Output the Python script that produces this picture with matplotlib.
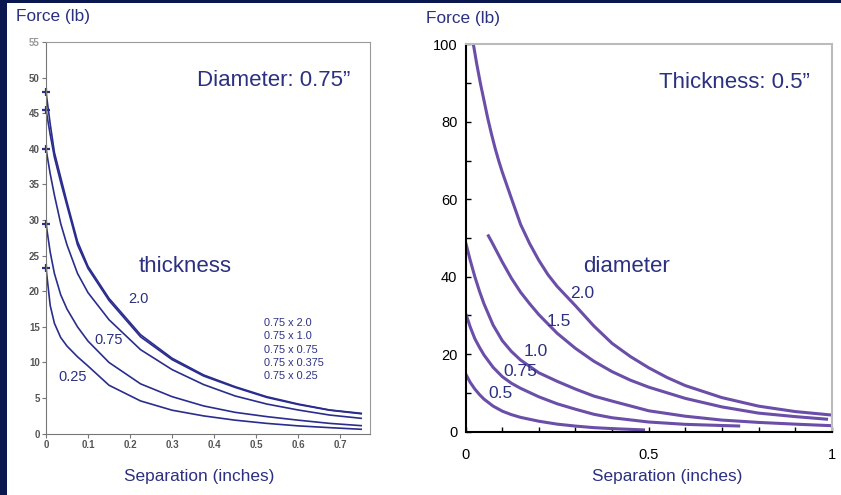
import matplotlib
matplotlib.use("Agg")
import matplotlib.pyplot as plt
from matplotlib.patches import Rectangle

plt.rcParams['font.family'] = ['Liberation Sans', 'DejaVu Sans']

# ---- left chart: diameter 0.75", different thickness ----
sep_left = [0, 0.01, 0.02, 0.035, 0.05, 0.075, 0.1, 0.15, 0.225, 0.3, 0.375, 0.45, 0.525, 0.6, 0.675, 0.75]
thick_20 = [48.0, 43.5, 39.5, 36.0, 32.5, 27.0, 23.5, 19.0, 13.9, 10.6, 8.25, 6.6, 5.2, 4.17, 3.33, 2.86]
thick_10 = [45.5, 42.0, 38.8, 35.3, 32.0, 26.5, 23.2, 18.7, 13.6, 10.4, 8.1, 6.5, 5.1, 4.1, 3.3, 2.8]
thick_075 = [40.0, 36.5, 33.5, 29.5, 26.5, 22.5, 19.8, 16.0, 11.8, 9.0, 6.9, 5.3, 4.17, 3.33, 2.62, 2.16]
thick_0375 = [29.5, 25.5, 22.5, 19.5, 17.5, 15.0, 13.0, 10.0, 7.0, 5.2, 3.9, 3.0, 2.4, 1.9, 1.45, 1.13]
thick_025 = [23.3, 18.0, 15.5, 13.5, 12.3, 10.8, 9.5, 6.8, 4.6, 3.3, 2.5, 1.9, 1.45, 1.1, 0.85, 0.62]
legend_left = ["0.75 x 2.0", "0.75 x 1.0", "0.75 x 0.75", "0.75 x 0.375", "0.75 x 0.25"]

# ---- right chart: thickness 0.5", different diameter ----
sep_d05 = [0, 0.0125, 0.025, 0.0375, 0.05, 0.075, 0.1, 0.125, 0.15, 0.2, 0.25, 0.3, 0.35, 0.4, 0.49]
dia_05 = [14.9, 12.7, 11.0, 9.6, 8.4, 6.6, 5.3, 4.4, 3.7, 2.7, 1.95, 1.45, 1.05, 0.8, 0.45]
sep_d075 = [0, 0.0125, 0.025, 0.0375, 0.05, 0.075, 0.1, 0.125, 0.15, 0.2, 0.25, 0.3, 0.35, 0.4, 0.5, 0.6, 0.7, 0.75]
dia_075 = [30.5, 27.0, 24.0, 21.8, 19.8, 16.6, 14.2, 12.5, 11.2, 9.0, 7.2, 5.8, 4.5, 3.6, 2.5, 1.9, 1.6, 1.46]
sep_d10 = [0, 0.0125, 0.025, 0.0375, 0.05, 0.075, 0.1, 0.125, 0.15, 0.2, 0.25, 0.3, 0.35, 0.4, 0.5, 0.6, 0.7, 0.8, 0.9, 1.0]
dia_10 = [48.8, 44.2, 40.0, 36.3, 33.0, 27.5, 23.5, 20.7, 18.5, 15.2, 13.0, 11.0, 9.2, 7.9, 5.4, 4.0, 3.0, 2.4, 1.95, 1.55]
sep_d15 = [0.06, 0.07, 0.08, 0.09, 0.1, 0.125, 0.15, 0.175, 0.2, 0.25, 0.3, 0.35, 0.4, 0.45, 0.5, 0.6, 0.7, 0.8, 0.9, 0.99]
dia_15 = [50.9, 49.2, 47.4, 45.6, 43.8, 39.6, 36.0, 33.0, 30.2, 25.4, 21.5, 18.2, 15.5, 13.3, 11.5, 8.6, 6.4, 4.8, 3.9, 3.2]
sep_d20 = [0.021, 0.03, 0.04, 0.05, 0.06, 0.07, 0.08, 0.09, 0.1, 0.125, 0.15, 0.175, 0.2, 0.225,
           0.25, 0.275, 0.3, 0.35, 0.4, 0.45, 0.5, 0.55, 0.6, 0.7, 0.8, 0.9, 1.0]
dia_20 = [100, 95, 90, 85.5, 81, 77, 73.3, 70, 67, 60.2, 53.5, 48.5, 44.2, 40.5,
          37.5, 35, 32.5, 27.3, 22.8, 19.4, 16.5, 14.0, 11.9, 8.8, 6.6, 5.2, 4.3]

W, H = 841, 495
navy = '#2b3080'
c_left = '#2a2d8c'
c_right = '#6a4ea8'

fig = plt.figure(figsize=(W / 100, H / 100), dpi=100, facecolor='#0b1850')
fig.patches.append(Rectangle((7 / W, 0), 1, 492 / H, transform=fig.transFigure,
                             facecolor='white', edgecolor='none', zorder=-10))


def ftext(x, y, s, **kw):
    # position in pixels of the picture (y from top)
    fig.text(x / W, 1 - y / H, s, **kw)


# ---------------- left chart ----------------
ax1 = fig.add_axes([46 / W, 1 - 433.7 / H, 324 / W, 391.7 / H])
for ys in [thick_20, thick_10, thick_075, thick_0375, thick_025]:
    ax1.plot(sep_left, ys, color=c_left, lw=1.2)
    ax1.plot(sep_left[0], ys[0], marker='+', color=c_left, ms=6, mew=1.6, clip_on=False)
ax1.set_xlim(0, 0.771)
ax1.set_ylim(0, 55)
ax1.set_xticks([0, 0.1, 0.2, 0.3, 0.4, 0.5, 0.6, 0.7])
ax1.set_xticklabels(['0', '0.1', '0.2', '0.3', '0.4', '0.5', '0.6', '0.7'])
ax1.set_yticks(range(0, 56, 5))
ax1.tick_params(labelsize=7, labelcolor='#555555', color='#777777', length=3, width=0.8, pad=1.5)
for lab in ax1.get_xticklabels() + ax1.get_yticklabels():
    lab.set_fontweight('bold')
ax1.get_yticklabels()[-1].set_color('#999999')
for s in ['top', 'right']:
    ax1.spines[s].set_color('#9a9a9a')
for s in ['left', 'bottom']:
    ax1.spines[s].set_color('#777777')

ftext(16, 17, "Force (lb)", color=navy, fontsize=12.4, va='center')
ftext(197, 81, "Diameter: 0.75\u201d", color=navy, fontsize=16, va='center')
ftext(139, 267, "thickness", color=navy, fontsize=16, va='center')
ftext(128, 299, "2.0", color=navy, fontsize=10.5, va='center')
ftext(94, 340, "0.75", color=navy, fontsize=10.5, va='center')
ftext(58, 377, "0.25", color=navy, fontsize=10.5, va='center')
for i, s in enumerate(legend_left):
    ftext(264, 323 + i * 13.3, s, color=navy, fontsize=7.8, va='center')
ftext(199, 477, "Separation (inches)", color=navy, fontsize=12.4, va='center', ha='center')

# ---------------- right chart ----------------
ax2 = fig.add_axes([465.7 / W, 1 - 431.7 / H, 366 / W, 387.4 / H])
for xs, ys in [(sep_d05, dia_05), (sep_d075, dia_075), (sep_d10, dia_10),
               (sep_d15, dia_15), (sep_d20, dia_20)]:
    ax2.plot(xs, ys, color=c_right, lw=2.2, solid_capstyle='butt')
ax2.set_xlim(0, 1)
ax2.set_ylim(0, 100)
ax2.set_xticks([0, 0.5, 1])
ax2.set_xticklabels(['0', '0.5', '1'])
ax2.set_xticks([i / 10 for i in range(11)], minor=True)
ax2.set_yticks(range(0, 101, 20))
ax2.set_yticks(range(10, 100, 20), minor=True)
ax2.tick_params(which='both', direction='in', length=3.5, width=1, color='black')
ax2.tick_params(axis='x', which='major', pad=12)
ax2.tick_params(axis='y', which='major', pad=6)
for lab in ax2.get_xticklabels() + ax2.get_yticklabels():
    lab.set_fontsize(10.5)
for s in ['top', 'right']:
    ax2.spines[s].set_color('#bbbbbb')
    ax2.spines[s].set_linewidth(1.5)
for s in ['left', 'bottom']:
    ax2.spines[s].set_color('black')
    ax2.spines[s].set_linewidth(1.5)

ftext(426, 18, "Force (lb)", color=navy, fontsize=12.4, va='center')
ftext(659, 83, "Thickness: 0.5\u201d", color=navy, fontsize=16, va='center')
ftext(583, 266, "diameter", color=navy, fontsize=16, va='center')
ftext(570, 293, "2.0", color=navy, fontsize=12.5, va='center')
ftext(547, 322, "1.5", color=navy, fontsize=12.5, va='center')
ftext(524, 351, "1.0", color=navy, fontsize=12.5, va='center')
ftext(503, 371, "0.75", color=navy, fontsize=12.5, va='center')
ftext(488, 393, "0.5", color=navy, fontsize=12.5, va='center')
ftext(667, 477, "Separation (inches)", color=navy, fontsize=12.4, va='center', ha='center')

fig.savefig("out.png", dpi=100, facecolor=fig.get_facecolor())
